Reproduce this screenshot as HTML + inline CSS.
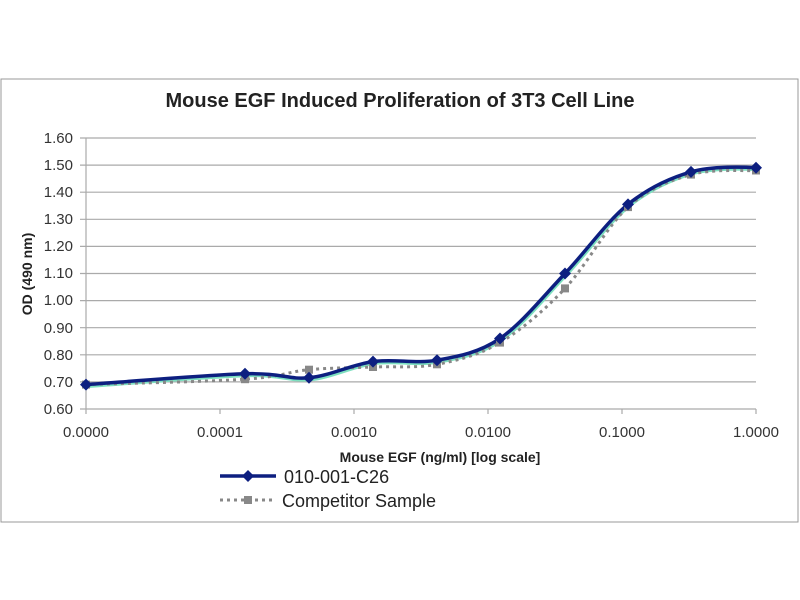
<!DOCTYPE html>
<html><head><style>body{margin:0;background:#fff}svg{display:block}</style></head><body>
<svg width="800" height="600" xmlns="http://www.w3.org/2000/svg" font-family="Liberation Sans, sans-serif">
<rect x="1" y="79" width="797" height="443" fill="#fff" stroke="#999" stroke-width="1"/>
<text x="400" y="107" font-size="20" font-weight="bold" text-anchor="middle" fill="#222">Mouse EGF Induced Proliferation of 3T3 Cell Line</text>
<g stroke="#aaa" stroke-width="1.2">
<line x1="80" x2="756" y1="138" y2="138"/><line x1="80" x2="756" y1="165.1" y2="165.1"/><line x1="80" x2="756" y1="192.2" y2="192.2"/><line x1="80" x2="756" y1="219.3" y2="219.3"/><line x1="80" x2="756" y1="246.4" y2="246.4"/><line x1="80" x2="756" y1="273.5" y2="273.5"/><line x1="80" x2="756" y1="300.6" y2="300.6"/><line x1="80" x2="756" y1="327.7" y2="327.7"/><line x1="80" x2="756" y1="354.8" y2="354.8"/><line x1="80" x2="756" y1="381.9" y2="381.9"/><line x1="80" x2="756" y1="409" y2="409"/>
<line x1="86" x2="86" y1="138" y2="414"/>
<line x1="220" x2="220" y1="409" y2="414"/><line x1="354" x2="354" y1="409" y2="414"/><line x1="488" x2="488" y1="409" y2="414"/><line x1="622" x2="622" y1="409" y2="414"/><line x1="756" x2="756" y1="409" y2="414"/>
</g>
<g font-size="15" fill="#333" text-anchor="end">
<text x="73" y="143">1.60</text><text x="73" y="170">1.50</text><text x="73" y="197">1.40</text><text x="73" y="224">1.30</text><text x="73" y="251">1.20</text><text x="73" y="278">1.10</text><text x="73" y="305">1.00</text><text x="73" y="333">0.90</text><text x="73" y="360">0.80</text><text x="73" y="387">0.70</text><text x="73" y="414">0.60</text>
</g>
<g font-size="15" fill="#333" text-anchor="middle">
<text x="86" y="437">0.0000</text><text x="220" y="437">0.0001</text><text x="354" y="437">0.0010</text><text x="488" y="437">0.0100</text><text x="622" y="437">0.1000</text><text x="756" y="437">1.0000</text>
</g>
<text x="32" y="274" font-size="14" font-weight="bold" fill="#222" text-anchor="middle" transform="rotate(-90 32 274)">OD (490 nm)</text>
<text x="440" y="462" font-size="14" font-weight="bold" fill="#222" text-anchor="middle">Mouse EGF (ng/ml) [log scale]</text>
<path transform="translate(1,2)" d="M86,384.6 C112.5,382.8 207.8,374.9 245,373.8 C282.2,372.7 287.7,379.8 309,377.8 C330.3,375.8 351.7,364.5 373,361.6 C394.3,358.7 415.8,364 437,360.2 C458.2,356.4 478.7,352.9 500,338.5 C521.3,324 543.7,295.9 565,273.5 C586.3,251.2 607,221.3 628,204.4 C649,187.5 669.7,178 691,171.9 C712.3,165.8 745.2,167.1 756,167.8" fill="none" stroke="#7ee0c0" stroke-width="3"/>
<path d="M86,384.6 C112.5,383.7 207.8,381.7 245,379.2 C282.2,376.7 287.7,371.7 309,369.7 C330.3,367.7 351.7,367.9 373,367 C394.3,366.1 415.8,368.4 437,364.3 C458.2,360.2 478.7,355.3 500,342.6 C521.3,329.9 543.7,311 565,288.4 C586.3,265.8 607,226.1 628,207.1 C649,188.2 669.7,180.7 691,174.6 C712.3,168.6 745.2,171.2 756,170.5" fill="none" stroke="#888" stroke-width="3" stroke-dasharray="3,4"/>
<path d="M86,384.6 C112.5,382.8 207.8,374.9 245,373.8 C282.2,372.7 287.7,379.8 309,377.8 C330.3,375.8 351.7,364.5 373,361.6 C394.3,358.7 415.8,364 437,360.2 C458.2,356.4 478.7,352.9 500,338.5 C521.3,324 543.7,295.9 565,273.5 C586.3,251.2 607,221.3 628,204.4 C649,187.5 669.7,178 691,171.9 C712.3,165.8 745.2,167.1 756,167.8" fill="none" stroke="#0d1f80" stroke-width="3.5"/>
<g fill="#888">
<rect x="82" y="380.6" width="8" height="8"/><rect x="241" y="375.2" width="8" height="8"/><rect x="305" y="365.7" width="8" height="8"/><rect x="369" y="363" width="8" height="8"/><rect x="433" y="360.3" width="8" height="8"/><rect x="496" y="338.6" width="8" height="8"/><rect x="561" y="284.4" width="8" height="8"/><rect x="624" y="203.1" width="8" height="8"/><rect x="687" y="170.6" width="8" height="8"/><rect x="752" y="166.5" width="8" height="8"/>
</g>
<g fill="#0d1f80">
<path d="M86,378.6 l6,6 -6,6 -6,-6z"/><path d="M245,367.8 l6,6 -6,6 -6,-6z"/><path d="M309,371.8 l6,6 -6,6 -6,-6z"/><path d="M373,355.6 l6,6 -6,6 -6,-6z"/><path d="M437,354.2 l6,6 -6,6 -6,-6z"/><path d="M500,332.5 l6,6 -6,6 -6,-6z"/><path d="M565,267.5 l6,6 -6,6 -6,-6z"/><path d="M628,198.4 l6,6 -6,6 -6,-6z"/><path d="M691,165.9 l6,6 -6,6 -6,-6z"/><path d="M756,161.8 l6,6 -6,6 -6,-6z"/>
</g>
<line x1="220" x2="276" y1="476" y2="476" stroke="#0d1f80" stroke-width="3.5"/>
<path d="M248,470 l6,6 -6,6 -6,-6z" fill="#0d1f80"/>
<text x="284" y="483" font-size="18" fill="#222">010-001-C26</text>
<line x1="220" x2="276" y1="500" y2="500" stroke="#888" stroke-width="3" stroke-dasharray="3,4"/>
<rect x="244" y="496" width="8" height="8" fill="#888"/>
<text x="282" y="507" font-size="18" fill="#222">Competitor Sample</text>
</svg>
</body></html>
